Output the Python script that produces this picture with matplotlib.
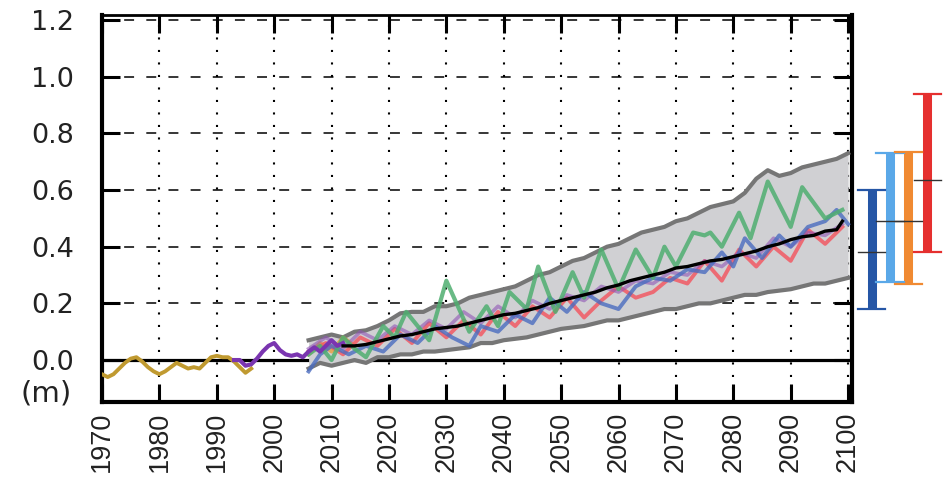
import matplotlib
matplotlib.use("Agg")
import matplotlib.pyplot as plt

# observed records
tide_years = [1970, 1971, 1972, 1973, 1974, 1975, 1976, 1977, 1978, 1979, 1980, 1981,
              1982, 1983, 1984, 1985, 1986, 1987, 1988, 1989, 1990, 1991, 1992, 1993,
              1994, 1995, 1996]
tide_vals = [-0.05, -0.06, -0.05, -0.03, -0.01, 0.005, 0.01, -0.005, -0.025, -0.04, -0.05,
             -0.04, -0.025, -0.01, -0.02, -0.03, -0.025, -0.03, -0.01, 0.01, 0.015, 0.01,
             0.01, -0.005, -0.025, -0.045, -0.03]

sat_years = [1993, 1994, 1995, 1996, 1997, 1998, 1999, 2000, 2001, 2002, 2003, 2004, 2005,
             2006, 2007, 2008, 2009, 2010, 2011, 2012]
sat_vals = [0.0, 0.0, -0.02, -0.015, 0.005, 0.03, 0.05, 0.06, 0.035, 0.02, 0.015, 0.02, 0.01,
            0.03, 0.045, 0.03, 0.05, 0.07, 0.05, 0.06]

# projection envelope
env_years = list(range(2006, 2101, 2))
env_upper = [0.07, 0.08, 0.09, 0.08, 0.10, 0.105, 0.12, 0.14, 0.165, 0.17, 0.17, 0.19, 0.19,
             0.20, 0.22, 0.23, 0.24, 0.25, 0.26, 0.28, 0.30, 0.31, 0.33, 0.35, 0.36, 0.38,
             0.40, 0.41, 0.43, 0.45, 0.46, 0.47, 0.49, 0.50, 0.52, 0.54, 0.55, 0.56, 0.59,
             0.64, 0.67, 0.65, 0.66, 0.68, 0.69, 0.70, 0.71, 0.73]
env_lower = [-0.03, -0.01, -0.02, -0.01, 0.0, -0.01, 0.01, 0.01, 0.02, 0.02, 0.03, 0.03,
             0.035, 0.04, 0.045, 0.06, 0.06, 0.07, 0.075, 0.08, 0.09, 0.10, 0.11, 0.115, 0.12,
             0.13, 0.14, 0.14, 0.15, 0.16, 0.17, 0.18, 0.18, 0.19, 0.20, 0.20, 0.21, 0.22,
             0.23, 0.23, 0.24, 0.245, 0.25, 0.26, 0.27, 0.27, 0.28, 0.29]

# individual runs
green_years = [2006, 2008, 2010, 2012, 2014, 2016, 2019, 2021, 2023, 2027, 2030, 2034, 2037,
               2039, 2041, 2044, 2046, 2049, 2052, 2054, 2057, 2060, 2063, 2066, 2068, 2070,
               2073, 2075, 2076, 2078, 2081, 2083, 2086, 2090, 2092, 2096, 2099]
green_vals = [0.02, 0.05, 0.0, 0.08, 0.04, 0.01, 0.12, 0.08, 0.17, 0.07, 0.28, 0.10, 0.19,
              0.12, 0.24, 0.18, 0.33, 0.17, 0.31, 0.22, 0.39, 0.25, 0.39, 0.29, 0.40, 0.33,
              0.45, 0.44, 0.45, 0.40, 0.52, 0.43, 0.63, 0.47, 0.61, 0.50, 0.53]

blue_years = [2006, 2008, 2010, 2013, 2016, 2019, 2022, 2025, 2028, 2031, 2034, 2036, 2039,
              2042, 2045, 2048, 2051, 2054, 2057, 2060, 2063, 2066, 2069, 2072, 2075, 2078,
              2080, 2082, 2085, 2088, 2090, 2093, 2096, 2098, 2100]
blue_vals = [-0.04, 0.02, 0.05, 0.02, 0.05, 0.03, 0.09, 0.06, 0.12, 0.08, 0.05, 0.12, 0.10,
             0.16, 0.13, 0.22, 0.17, 0.24, 0.20, 0.18, 0.26, 0.29, 0.28, 0.32, 0.31, 0.38,
             0.33, 0.43, 0.36, 0.44, 0.40, 0.47, 0.49, 0.53, 0.48]

red_years = [2006, 2009, 2012, 2015, 2018, 2021, 2024, 2027, 2030, 2033, 2036, 2039, 2042,
             2045, 2048, 2051, 2054, 2057, 2060, 2063, 2066, 2069, 2072, 2075, 2078, 2081,
             2084, 2087, 2090, 2093, 2096, 2099]
red_vals = [0.03, 0.06, 0.02, 0.08, 0.05, 0.11, 0.06, 0.13, 0.08, 0.14, 0.09, 0.17, 0.12,
            0.19, 0.15, 0.22, 0.15, 0.21, 0.26, 0.22, 0.24, 0.29, 0.27, 0.35, 0.28, 0.39,
            0.33, 0.40, 0.35, 0.46, 0.41, 0.47]

purple_years = red_years
purple_vals = [0.04, 0.08, 0.04, 0.10, 0.07, 0.12, 0.09, 0.14, 0.11, 0.17, 0.13, 0.19, 0.15,
               0.21, 0.18, 0.23, 0.21, 0.26, 0.24, 0.28, 0.27, 0.31, 0.30, 0.35, 0.33, 0.38,
               0.36, 0.43, 0.40, 0.45, 0.44, 0.48]

orange_years = [2006, 2008, 2010, 2012, 2014]
orange_vals = [0.02, 0.06, 0.03, 0.08, 0.05]

# ensemble mean
mean_years = list(range(2012, 2100, 2)) + [2099]
mean_vals = [0.05, 0.05, 0.055, 0.065, 0.075, 0.085, 0.09, 0.10, 0.11, 0.115, 0.12, 0.13,
             0.14, 0.15, 0.16, 0.165, 0.175, 0.185, 0.20, 0.21, 0.22, 0.23, 0.24, 0.255,
             0.265, 0.28, 0.29, 0.30, 0.31, 0.325, 0.33, 0.34, 0.35, 0.355, 0.365, 0.375,
             0.385, 0.40, 0.41, 0.425, 0.435, 0.44, 0.455, 0.46, 0.49]

# 2081-2100 likely ranges
bar_colors = ["#2556a6", "#5aa8e8", "#f08a32", "#e5302f"]
bar_low = [0.18, 0.275, 0.27, 0.38]
bar_mid = [0.38, 0.49, 0.49, 0.635]
bar_high = [0.60, 0.73, 0.735, 0.94]

fig = plt.figure(figsize=(9.47, 4.82), dpi=100)
ax = fig.add_axes([0.1077, 0.166, 0.7915, 0.803])

ax.set_xlim(1970, 2100.6)
ax.set_ylim(-0.148, 1.218)

# grid
for yr in range(1980, 2101, 10):
    ax.axvline(yr, color="black", lw=1.5, ls=(0, (1, 5)), zorder=1)
for v in [0.2, 0.4, 0.6, 0.8, 1.0, 1.2]:
    ax.axhline(v, color="black", lw=1.1, ls=(0, (6.5, 8)), zorder=1)
ax.axhline(0.0, color="black", lw=2.3, zorder=2)

# envelope
ax.fill_between(env_years, env_lower, env_upper, color="#d0d0d3", zorder=3, lw=0)
ax.plot(env_years, env_upper, color="#767676", lw=3, zorder=4)
ax.plot(env_years, env_lower, color="#767676", lw=3, zorder=4)

# runs
ax.plot(orange_years, orange_vals, color="#e6a040", lw=2.8, alpha=0.8, zorder=5)
ax.plot(red_years, red_vals, color="#f25a64", lw=2.8, alpha=0.85, zorder=5)
ax.plot(purple_years, purple_vals, color="#9055b5", lw=2.6, alpha=0.6, zorder=5)
ax.plot(blue_years, blue_vals, color="#4a6cc0", lw=2.8, alpha=0.8, zorder=5)
ax.plot(green_years, green_vals, color="#4fae70", lw=3, alpha=0.85, zorder=6)

# observations
ax.plot(tide_years, tide_vals, color="#c09a30", lw=2.8, zorder=7)
ax.plot(sat_years, sat_vals, color="#7a35b0", lw=3, zorder=8)

ax.plot(mean_years, mean_vals, color="black", lw=2.4, zorder=9)

# ranges beside the axes
bar_x = [2104.1, 2107.3, 2110.5, 2113.8]
for x, c, lo, mid, hi in zip(bar_x, bar_colors, bar_low, bar_mid, bar_high):
    ax.plot([x, x], [lo, hi], color=c, lw=6.5, solid_capstyle="butt", clip_on=False, zorder=10)
    for v in (lo, hi):
        ax.plot([x - 2.4, x + 2.4], [v, v], color=c, lw=1.6, clip_on=False, zorder=11)
    ax.plot([x - 2.4, x + 2.4], [mid, mid], color="#333333", lw=1.0, clip_on=False, zorder=11)

# axes styling
ax.set_xticks(range(1970, 2101, 10))
ax.set_yticks([0.0, 0.2, 0.4, 0.6, 0.8, 1.0, 1.2])
ax.set_yticklabels(["0.0", "0.2", "0.4", "0.6", "0.8", "1.0", "1.2"])
ax.tick_params(direction="in", length=13, width=2.2, top=True, right=True)
ax.tick_params(axis="y", pad=20)
ax.tick_params(axis="x", pad=7)
for lab in ax.get_yticklabels():
    lab.set_fontfamily("DejaVu Sans")
    lab.set_fontsize(19.5)
    lab.set_color("#222222")
for lab in ax.get_xticklabels():
    lab.set_fontfamily("Liberation Sans")
    lab.set_fontsize(19.5)
    lab.set_rotation(90)
    lab.set_color("#222222")

for side in ["left", "bottom", "right"]:
    ax.spines[side].set_linewidth(3)
ax.spines["top"].set_linewidth(2)

fig.text(0.076, 0.183, "(m)", fontsize=21, family="DejaVu Sans", color="#222222",
         ha="right", va="center")

fig.savefig("out.png", dpi=100)
